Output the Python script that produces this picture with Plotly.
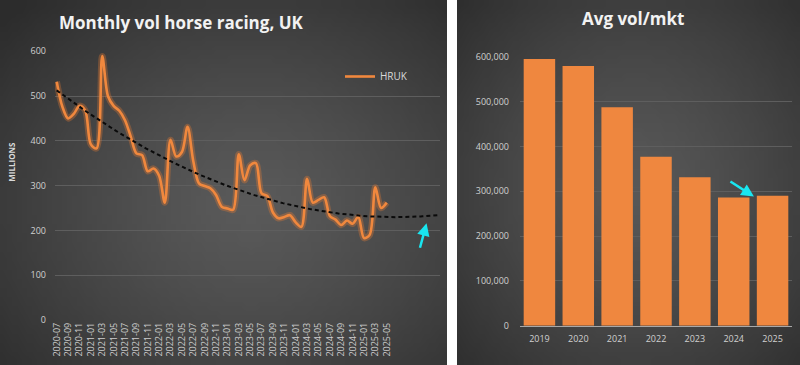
import base64, struct, zlib
import numpy as np
import plotly.graph_objects as go

# ---------------- data ----------------
months = [f"{2020 + (6 + k) // 12}-{(6 + k) % 12 + 1:02d}" for k in range(59)]  # 2020-07 .. 2025-05
hruk_millions = [532, 476, 450, 460, 478, 468, 392, 383, 589, 500,
                 478, 467, 446, 410, 372, 368, 332, 338, 322, 262,
                 402, 365, 375, 431, 355, 305, 299, 294, 279, 253,
                 249, 246, 370, 312, 345, 350, 283, 277, 240, 227,
                 230, 234, 218, 208, 315, 262, 268, 274, 232, 224,
                 212, 222, 215, 230, 183, 190, 296, 250, 262]
forecast_forward = 9

years = ["2019", "2020", "2021", "2022", "2023", "2024", "2025"]
avg_vol_per_mkt = [595000, 579000, 487000, 377000, 331000, 286000, 290000]

# ---------------- background gradient images ----------------
def radial_png(w, h, cx, cy, inner, outer, power=1.3):
    raw = b""
    for y in range(h):
        raw += b"\x00"
        for x in range(w):
            d = np.sqrt(((x - cx) / w) ** 2 + ((y - cy) / h) ** 2) / 0.75
            t = min(1.0, d) ** power
            px = bytes(int(round(inner[c] + (outer[c] - inner[c]) * t)) for c in range(3))
            raw += px
    def chunk(tag, data):
        c = struct.pack(">I", len(data)) + tag + data
        return c + struct.pack(">I", zlib.crc32(tag + data) & 0xffffffff)
    png = b"\x89PNG\r\n\x1a\n"
    png += chunk(b"IHDR", struct.pack(">IIBBBBB", w, h, 8, 2, 0, 0, 0))
    png += chunk(b"IDAT", zlib.compress(raw, 9))
    png += chunk(b"IEND", b"")
    return "data:image/png;base64," + base64.b64encode(png).decode()

W, H = 800, 365
left_bg = radial_png(90, 40, 50, 22, (0x5a, 0x5a, 0x5a), (0x2c, 0x2c, 0x2c))
right_bg = radial_png(70, 40, 36, 20, (0x58, 0x58, 0x58), (0x2c, 0x2c, 0x2c))

# ---------------- figure ----------------
fig = go.Figure()
idx = list(range(len(hruk_millions)))

# trendline: polynomial order 2 with forward forecast
coef = np.polyfit(idx, hruk_millions, 2)
trend_x = np.arange(0, len(hruk_millions) + forecast_forward - 0.5 + 1e-9, 0.25)
trend_x = trend_x[trend_x <= len(hruk_millions) - 1 + forecast_forward + 0.36]
trend_y = np.polyval(coef, trend_x)

# glow under line
fig.add_trace(go.Scatter(x=idx, y=hruk_millions, mode="lines", line=dict(color="rgba(237,125,49,0.32)", width=6.5, shape="spline", smoothing=0.9),
                         showlegend=False, hoverinfo="skip", xaxis="x", yaxis="y"))
fig.add_trace(go.Scatter(x=idx, y=hruk_millions, mode="lines", name="HRUK",
                         line=dict(color="#f0883e", width=2.6, shape="spline", smoothing=0.9),
                         xaxis="x", yaxis="y"))
fig.add_trace(go.Scatter(x=trend_x, y=trend_y, mode="lines", line=dict(color="#0a0a0a", width=2, dash="4px,3px"),
                         showlegend=False, hoverinfo="skip", xaxis="x", yaxis="y"))

fig.add_trace(go.Bar(x=years, y=avg_vol_per_mkt, marker=dict(color="#ef873f", line=dict(width=0)),
                     showlegend=False, xaxis="x2", yaxis="y2"))

def px_x(p):
    return p / W

def px_y(p):
    return (H - p) / H

tick_font = dict(family="Open Sans, sans-serif", size=9, color="#cfcfcf")

fig.update_layout(
    width=W, height=H, margin=dict(l=0, r=0, t=0, b=0, autoexpand=False),
    paper_bgcolor="#ffffff", plot_bgcolor="rgba(0,0,0,0)",
    images=[
        dict(source=left_bg, xref="paper", yref="paper", x=0, y=1, sizex=px_x(447), sizey=1,
             sizing="stretch", layer="below", xanchor="left", yanchor="top"),
        dict(source=right_bg, xref="paper", yref="paper", x=px_x(457), y=1, sizex=px_x(343), sizey=1,
             sizing="stretch", layer="below", xanchor="left", yanchor="top"),
    ],
    xaxis=dict(domain=[px_x(55), px_x(440)], range=[-0.3, len(hruk_millions) - 1 + forecast_forward + 0.36],
               tickvals=idx[::2], ticktext=months[::2], tickangle=-90, tickfont=tick_font,
               showgrid=False, zeroline=False, showline=False, ticks="", anchor="y", automargin=False),
    yaxis=dict(domain=[px_y(320), px_y(51.2)], range=[0, 600], dtick=100, tickfont=dict(family="Open Sans, sans-serif", size=9, color="#d0d0d0"),
               showgrid=True, gridcolor="#5e5e5e", gridwidth=1, zeroline=False, showline=False, ticks="",
               ticklabelstandoff=8, anchor="x", automargin=False),
    xaxis2=dict(domain=[px_x(520), px_x(792)], tickfont=dict(family="Open Sans, sans-serif", size=9, color="#d0d0d0"),
                showgrid=False, zeroline=False, showline=True, linecolor="#a8a8a8", linewidth=1, ticks="",
                anchor="y2", ticklabelstandoff=4, automargin=False),
    yaxis2=dict(domain=[px_y(325.7), px_y(56.7)], range=[0, 600000], dtick=100000, tickformat=",d",
                tickfont=dict(family="Open Sans, sans-serif", size=9, color="#d0d0d0"),
                showgrid=True, gridcolor="#5e5e5e", gridwidth=1, zeroline=False, showline=False, ticks="",
                ticklabelstandoff=10, anchor="x2", automargin=False),
    bargap=0.19,
    legend=dict(x=px_x(340), y=px_y(62), xanchor="left", yanchor="top", bgcolor="rgba(0,0,0,0)",
                font=dict(family="Open Sans, sans-serif", size=10, color="#d9d9d9")),
    annotations=[
        dict(text="<b>Monthly vol horse racing, UK</b>", x=px_x(181), y=px_y(23), xref="paper", yref="paper",
             xanchor="center", yanchor="middle",
             showarrow=False, font=dict(family="Open Sans, sans-serif", size=17, color="#f2f2f2")),
        dict(text="<b>Avg vol/mkt</b>", x=px_x(633), y=px_y(18), xref="paper", yref="paper",
             xanchor="center", yanchor="middle",
             showarrow=False, font=dict(family="Open Sans, sans-serif", size=17, color="#f2f2f2")),
        dict(text="<b>MILLIONS</b>", x=px_x(11.7), y=px_y(162), xref="paper", yref="paper", textangle=-90,
             xanchor="center", yanchor="middle",
             showarrow=False, font=dict(family="Open Sans, sans-serif", size=8, color="#d9d9d9")),
        dict(x=65, y=216, xref="x", yref="y", ax=-7, ay=26, showarrow=True, arrowhead=2, arrowsize=1,
             arrowwidth=2.5, arrowcolor="#19e6f0", text=""),
        dict(x=5.52, y=288000, xref="x2", yref="y2", ax=-25, ay=-16, showarrow=True, arrowhead=2, arrowsize=1,
             arrowwidth=2.5, arrowcolor="#19e6f0", text=""),
    ],
)

fig.write_html("out.html", config={"displayModeBar": False},
               post_script="document.body.style.margin='0';")
